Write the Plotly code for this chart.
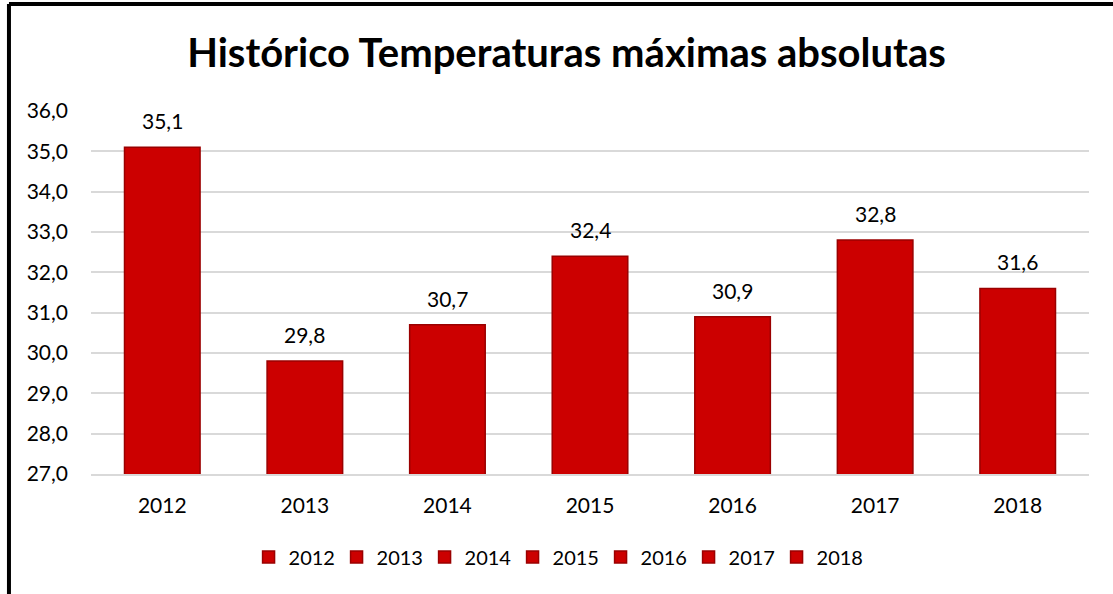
import plotly.graph_objects as go

# data
years = ['2012', '2013', '2014', '2015', '2016', '2017', '2018']
tmax = [35.1, 29.8, 30.7, 32.4, 30.9, 32.8, 31.6]
y_ticks = [27, 28, 29, 30, 31, 32, 33, 34, 35, 36]

BAR_RED = '#CC0000'
EDGE_RED = '#9A0000'
FONT = 'Lato'

fig = go.Figure()
for i, (yr, val) in enumerate(zip(years, tmax)):
    fig.add_trace(go.Bar(
        x=[yr], y=[val], name=yr, width=0.53,
        marker=dict(color=BAR_RED, line=dict(color=EDGE_RED, width=1.5)),
        hovertemplate='%{x}: %{y:.1f}<extra></extra>',
    ))
    # value label above each bar (category axis -> annotation x is the category index)
    fig.add_annotation(x=i, y=val, text=f'{val:.1f}'.replace('.', ','),
                       showarrow=False, yanchor='bottom', yshift=12,
                       font=dict(size=21, family=FONT, color='#000000'))

fig.update_layout(
    width=1113, height=594,
    barmode='overlay',
    separators=',.',
    paper_bgcolor='white', plot_bgcolor='white',
    margin=dict(l=91, r=24, t=111, b=120),
    font=dict(family=FONT, size=21, color='#000000'),
    title=dict(text='<b>Histórico Temperaturas máximas absolutas</b>',
               x=0.509, xanchor='center', y=0.911, yanchor='middle',
               font=dict(size=40, family=FONT, color='#000000')),
    legend=dict(orientation='h', x=0.4665, xanchor='center', y=-0.175, yanchor='top',
                font=dict(size=20), itemwidth=30, entrywidth=43, traceorder='normal'),
    showlegend=True,
)
fig.update_yaxes(range=[27, 36], tickvals=y_ticks, tickformat='.1f',
                 showgrid=True, gridcolor='#D9D9D9', gridwidth=1.5,
                 zeroline=False, showline=False, ticks='', ticklabelstandoff=22)
fig.update_xaxes(type='category', range=[-0.5, len(years) - 0.5], showgrid=False,
                 showline=True, linecolor='#D9D9D9', linewidth=1.5, ticks='',
                 ticklabelstandoff=12)

# outer frame (left and top edges visible in the source)
fig.add_shape(type='line', xref='paper', yref='paper', x0=-0.0822, x1=1.03, y0=1.295, y1=1.295,
              line=dict(color='black', width=4))
fig.add_shape(type='line', xref='paper', yref='paper', x0=-0.0822, x1=-0.0822, y0=1.295, y1=-0.35,
              line=dict(color='black', width=4))

fig.write_html('out.html', config={'displayModeBar': False},
               post_script="document.body.style.margin='0';")
